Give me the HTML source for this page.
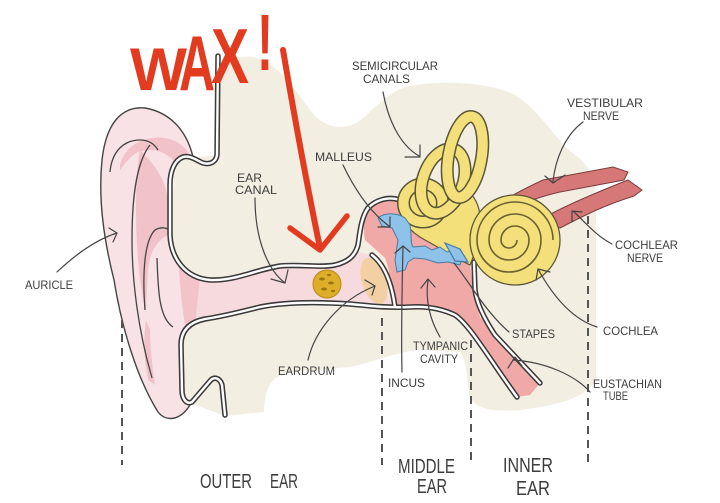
<!DOCTYPE html>
<html><head><meta charset="utf-8"><style>
html,body{margin:0;padding:0;background:#fff;}
svg{display:block;}
text{font-family:"Liberation Sans",sans-serif;}
</style></head><body>
<svg width="720" height="503" viewBox="0 0 720 503" xmlns="http://www.w3.org/2000/svg">
<rect width="720" height="503" fill="#fff"/>
<!-- beige background -->
<path d="M217,75 C220,60 235,55 252,57 C275,60 292,85 310,110 C322,126 340,132 358,122 C372,112 388,90 410,86 C440,80 490,82 515,95 C540,110 555,140 575,155 C590,165 596,180 596,200 L596,380 C585,398 560,405 520,410 C495,412 478,410 470,398 C466,380 468,360 460,352 L420,350 C395,352 375,362 350,367 L300,371 C275,374 265,380 264,412 L225,416 L182,400 L170,240 L175,160 L217,155 Z" fill="#f3eee2"/>

<!-- pinna -->
<path d="M193,157 C186,128 168,112 145,108 C120,106 106,125 102,160 C98,200 104,240 114,280 C122,330 138,380 158,412 C166,422 180,421 190,405 L183,395 C181,380 180,350 185,333 C190,323 200,320 240,313 L300,303 L300,267 L280,265 C260,272 240,277 213,280 C195,278 177,265 170,237 L170,180 C172,165 180,157 193,157 Z" fill="#f8e2e5"/>
<path d="M120,165 C125,145 145,135 165,138 C178,140 186,148 190,155 L175,162 C165,150 150,148 138,152 C128,158 124,165 120,170 Z" fill="#f1c3c9"/>
<path d="M140,150 C150,160 165,175 168,200 L168,235 C158,240 150,250 148,270 L146,310 C140,290 136,250 136,210 C136,180 138,160 140,150 Z" fill="#f1c3c9"/>
<path d="M150,330 C150,350 153,370 155,385 L148,380 C144,360 143,340 146,320 Z" fill="#f1c3c9"/>
<path d="M178,258 C185,275 195,282 212,282 L212,314 C200,318 190,322 186,330 C182,310 180,285 178,258 Z" fill="#f2c4ca"/>
<path d="M193,157 C186,128 168,112 145,108 C120,106 106,125 102,160 C98,200 104,240 114,280 C122,330 138,380 158,412 C166,422 180,421 190,405" fill="none" stroke="#444" stroke-width="1.4"/>
<path d="M110,172 C112,150 125,140 140,140 C150,140 155,145 158,150" fill="none" stroke="#444" stroke-width="1.3"/>
<path d="M150,145 C138,160 132,190 132,240 C132,280 138,330 152,378" fill="none" stroke="#444" stroke-width="1.3"/>
<path d="M145,310 C142,270 145,240 155,230 C162,226 168,228 172,232" fill="none" stroke="#444" stroke-width="1.3"/>
<path d="M157,258 C158,290 159,318 173,327" fill="none" stroke="#444" stroke-width="1.3"/>

<!-- ear canal -->
<path d="M200,278 C220,282 250,272 280,266 L330,267 C345,265 352,260 358,252 L372,255 L393,307 L347,303 L300,303 L240,313 C215,316 200,320 195,325 Z" fill="#f6dadd"/>

<!-- middle ear -->
<path d="M372,203 C380,198 392,196 400,200 L415,215 C430,225 450,240 462,255 L470,265 L473,287 L480,317 L540,383 L530,395 L517,397 L467,323 L433,305 L395,307 C392,290 390,270 385,258 L365,240 C362,225 365,210 372,203 Z" fill="#f1a9a7"/>
<!-- eardrum -->
<ellipse cx="374" cy="281" rx="12" ry="24" transform="rotate(-18 374 281)" fill="#f2d0a3"/>

<!-- skin / wall double lines -->
<g fill="none" stroke-linecap="round" stroke-linejoin="round">
<g stroke="#3b3b3b" stroke-width="5.5">
<path d="M218,56 L217,155 C216,162 210,165 203,163 C196,160 190,155 183,157 C175,160 170,170 170,185 L170,235 C171,258 185,278 210,280 C235,281 255,270 280,266 C300,264 320,268 335,265 C348,262 355,256 358,245 C360,232 361,218 368,208 C376,200 388,196 400,200"/>
<path d="M225,415 L222,385 C220,378 214,376 210,381 L192,402 C186,405 182,398 182,390 L181,345 C181,330 190,322 205,319 C225,316 240,312 260,307 C285,302 320,302 350,304 C370,306 390,308 410,307 C425,306 440,308 455,315 C470,325 490,360 517,397"/>
<path d="M474,262 L475,290 C477,305 485,320 495,335 L540,383"/>
<path d="M372,255 C385,265 392,285 395,307"/>
</g>
<g stroke="#fff" stroke-width="2.4">
<path d="M218,56 L217,155 C216,162 210,165 203,163 C196,160 190,155 183,157 C175,160 170,170 170,185 L170,235 C171,258 185,278 210,280 C235,281 255,270 280,266 C300,264 320,268 335,265 C348,262 355,256 358,245 C360,232 361,218 368,208 C376,200 388,196 400,200"/>
<path d="M225,415 L222,385 C220,378 214,376 210,381 L192,402 C186,405 182,398 182,390 L181,345 C181,330 190,322 205,319 C225,316 240,312 260,307 C285,302 320,302 350,304 C370,306 390,308 410,307 C425,306 440,308 455,315 C470,325 490,360 517,397"/>
<path d="M474,262 L475,290 C477,305 485,320 495,335 L540,383"/>
<path d="M372,255 C385,265 392,285 395,307"/>
</g>
</g>

<!-- vestibule -->
<path d="M398,205 C400,190 412,180 428,182 L472,195 C484,210 482,235 474,255 L470,265 C455,258 440,248 425,240 C410,232 400,220 398,205 Z" fill="#f3e07a" stroke="#5b5637" stroke-width="1.2"/>
<!-- semicircular canals -->
<g fill="none">
<ellipse cx="423" cy="203" rx="19.5" ry="19" stroke="#5b5637" stroke-width="13"/>
<ellipse cx="423" cy="203" rx="19.5" ry="19" stroke="#f3e07a" stroke-width="10"/>
<ellipse cx="443" cy="181" rx="20" ry="33.5" transform="rotate(20 443 181)" stroke="#5b5637" stroke-width="13"/>
<ellipse cx="443" cy="181" rx="20" ry="33.5" transform="rotate(20 443 181)" stroke="#f3e07a" stroke-width="10"/>
<ellipse cx="465" cy="157" rx="16.5" ry="41" transform="rotate(10 465 157)" stroke="#5b5637" stroke-width="13"/>
<ellipse cx="465" cy="157" rx="16.5" ry="41" transform="rotate(10 465 157)" stroke="#f3e07a" stroke-width="10"/>
</g>

<!-- ossicles -->
<path d="M378,218 C385,212 398,213 405,218 L410,225 C412,235 410,243 413,247 L425,246 L432,250 L440,247 L447,252 L455,250 L462,258 L460,265 L448,262 L438,263 L425,259 L414,258 L408,262 L405,270 L397,272 L395,260 L398,240 L392,228 L382,226 Z" fill="#8fc2e8" stroke="#4a7aa3" stroke-width="1"/>
<!-- stapes -->
<path d="M445,243 L460,249 L468,262 L455,261 Z" fill="#8fc2e8" stroke="#4a7aa3" stroke-width="1.2"/>

<!-- nerves -->
<path d="M470,235 C478,215 500,200 543,180 L613,167 L628,172 L624,180 L560,192 C525,200 500,212 480,240 Z" fill="#d77878" stroke="#7b3d3d" stroke-width="1"/>
<path d="M540,220 C560,208 590,195 628,180 L642,190 L634,196 C605,205 585,215 560,228 Z" fill="#d77878" stroke="#7b3d3d" stroke-width="1"/>

<!-- cochlea -->
<circle cx="515" cy="240" r="45" fill="#f3e07a" stroke="#5b5637" stroke-width="1.3"/>
<path d="M553,240 A38,38 0 0 0 477,240 A32,32 0 0 0 541,240 A26,26 0 0 0 489,240 A20,20 0 0 0 529,240 A14,14 0 0 0 501,240 A8,8 0 0 0 517,240" fill="none" stroke="#6b6030" stroke-width="1.6"/>

<!-- wax -->
<circle cx="327" cy="284" r="14" fill="#dcae2a" stroke="#b88a10" stroke-width="1"/>
<g fill="#9a7410">
<ellipse cx="322" cy="279" rx="3" ry="1.5"/><ellipse cx="331" cy="283" rx="3" ry="1.5"/><ellipse cx="324" cy="289" rx="3" ry="1.5"/><ellipse cx="333" cy="291" rx="2" ry="1.2"/><ellipse cx="329" cy="275" rx="2" ry="1.2"/>
</g>

<!-- dashed lines -->
<g stroke="#555" stroke-width="2" stroke-dasharray="8,6" fill="none">
<line x1="122" y1="320" x2="122" y2="465"/>
<line x1="382" y1="318" x2="382" y2="465"/>
<line x1="471" y1="340" x2="471" y2="463"/>
<line x1="588" y1="216" x2="588" y2="463"/>
</g>

<!-- leaders -->
<g fill="none" stroke="#444" stroke-width="1.2" stroke-linecap="round" stroke-linejoin="round">
<path d="M383,92 C388,120 400,145 419,156"/><path d="M405,157 L420,157 L420,145"/>
<path d="M583,122 C565,135 555,160 553,182"/><path d="M545,176 L553,183 L565,175"/>
<path d="M343,165 C355,190 370,212 389,226"/><path d="M378,227 L390,227 L390,217"/>
<path d="M255,198 C255,240 268,270 285,283"/><path d="M271,279 L285,283 L288,270"/>
<path d="M57,272 C75,255 95,240 117,233"/><path d="M109,228 L117,233 L113,242"/>
<path d="M308,360 C315,330 340,300 375,286"/><path d="M365,280 L375,286 L372,295"/>
<path d="M402,372 C401,330 402,290 403,246"/><path d="M395,253 L403,246 L410,252"/>
<path d="M440,337 C430,320 425,300 428,280"/><path d="M421,288 L428,279 L435,287"/>
<path d="M509,332 C495,320 480,300 470,285 C463,275 458,268 454,263"/>
<path d="M597,327 C575,320 555,300 538,269"/><path d="M536,280 L538,269 L550,272"/>
<path d="M612,244 C595,235 585,222 573,211"/><path d="M572,222 L572,211 L582,212"/>
<path d="M590,392 C575,375 545,362 513,360"/><path d="M508,368 L515,357 L522,366"/>
</g>

<!-- labels -->
<g fill="#3d3d3d" font-size="12">
<text x="352" y="70" textLength="86" lengthAdjust="spacingAndGlyphs">SEMICIRCULAR</text>
<text x="363" y="83" textLength="47" lengthAdjust="spacingAndGlyphs">CANALS</text>
<text x="567" y="107" textLength="76" lengthAdjust="spacingAndGlyphs">VESTIBULAR</text>
<text x="583" y="120" textLength="36" lengthAdjust="spacingAndGlyphs">NERVE</text>
<text x="315" y="161" textLength="57" lengthAdjust="spacingAndGlyphs">MALLEUS</text>
<text x="237" y="182" textLength="25" lengthAdjust="spacingAndGlyphs">EAR</text>
<text x="235" y="194" textLength="42" lengthAdjust="spacingAndGlyphs">CANAL</text>
<text x="25" y="289" textLength="48" lengthAdjust="spacingAndGlyphs">AURICLE</text>
<text x="278" y="375" textLength="57" lengthAdjust="spacingAndGlyphs">EARDRUM</text>
<text x="388" y="387" textLength="37" lengthAdjust="spacingAndGlyphs">INCUS</text>
<text x="413" y="350" textLength="55" lengthAdjust="spacingAndGlyphs">TYMPANIC</text>
<text x="420" y="363" textLength="38" lengthAdjust="spacingAndGlyphs">CAVITY</text>
<text x="512" y="338" textLength="43" lengthAdjust="spacingAndGlyphs">STAPES</text>
<text x="603" y="335" textLength="55" lengthAdjust="spacingAndGlyphs">COCHLEA</text>
<text x="615" y="249" textLength="63" lengthAdjust="spacingAndGlyphs">COCHLEAR</text>
<text x="627" y="262" textLength="36" lengthAdjust="spacingAndGlyphs">NERVE</text>
<text x="593" y="388" textLength="69" lengthAdjust="spacingAndGlyphs">EUSTACHIAN</text>
<text x="603" y="400" textLength="25" lengthAdjust="spacingAndGlyphs">TUBE</text>
</g>
<g fill="#3d3d3d" font-size="20">
<text x="200" y="488" textLength="52" lengthAdjust="spacingAndGlyphs">OUTER</text>
<text x="270" y="488" textLength="28" lengthAdjust="spacingAndGlyphs">EAR</text>
<text x="398" y="473" textLength="57" lengthAdjust="spacingAndGlyphs">MIDDLE</text>
<text x="417" y="493" textLength="30" lengthAdjust="spacingAndGlyphs">EAR</text>
<text x="503" y="472" textLength="50" lengthAdjust="spacingAndGlyphs">INNER</text>
<text x="516" y="495" textLength="34" lengthAdjust="spacingAndGlyphs">EAR</text>
</g>

<!-- red WAX -->
<g fill="#e23b1f" font-weight="bold">
<text x="130" y="90" font-size="60" textLength="57" lengthAdjust="spacingAndGlyphs">W</text>
<text x="179" y="90" font-size="78" textLength="36" lengthAdjust="spacingAndGlyphs">A</text>
<text x="211" y="83" font-size="78" textLength="38" lengthAdjust="spacingAndGlyphs">X</text>
<text x="257" y="70" font-size="80" textLength="16" lengthAdjust="spacingAndGlyphs">!</text>
</g>
<path d="M283,50 C295,120 308,190 320,248" fill="none" stroke="#e23b1f" stroke-width="6" stroke-linecap="round"/>
<path d="M290,228 L320,250 L347,216" fill="none" stroke="#e23b1f" stroke-width="5.5" stroke-linecap="round" stroke-linejoin="round"/>
</svg>
</body></html>
